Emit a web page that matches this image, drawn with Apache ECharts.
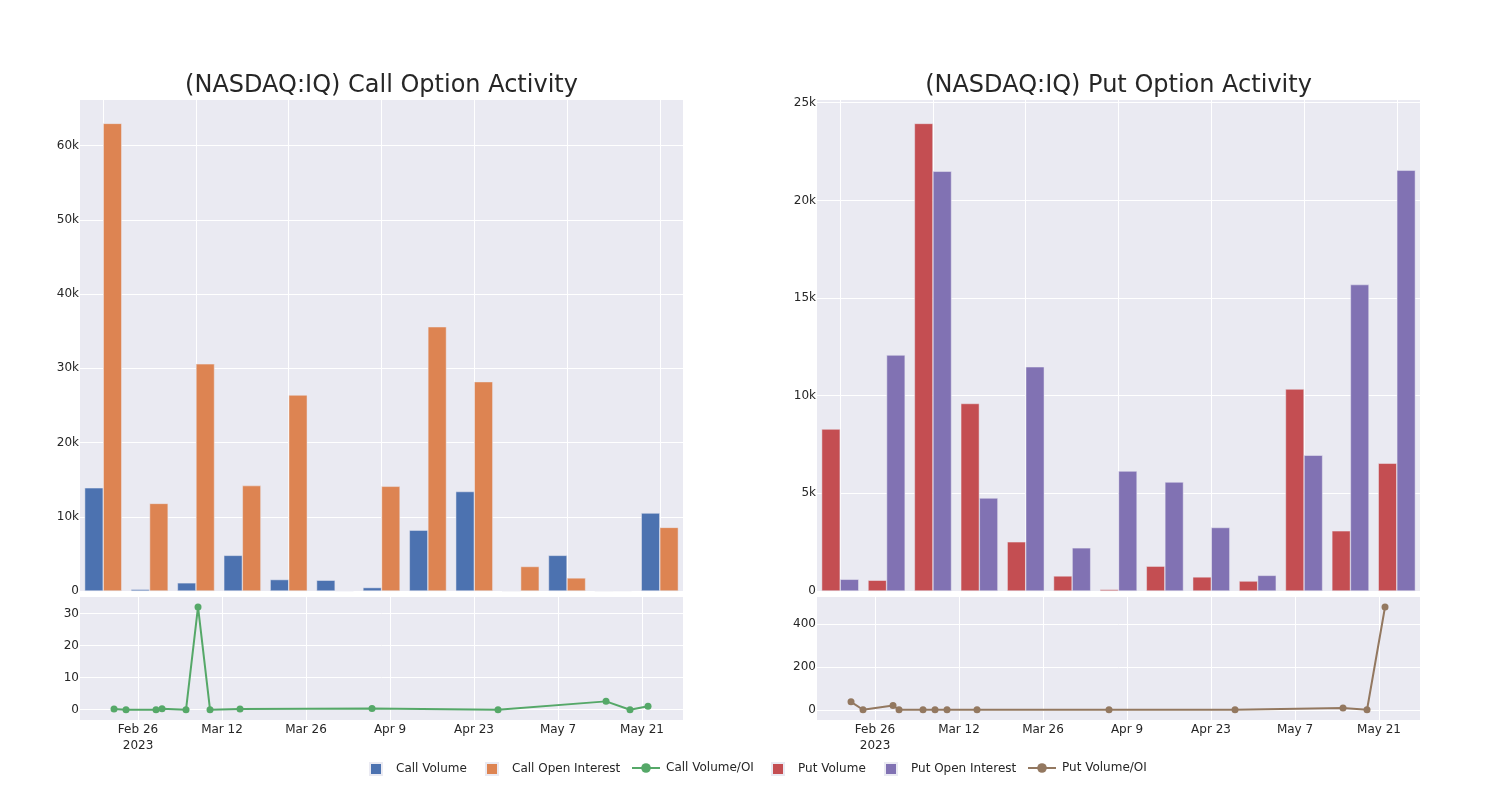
<!DOCTYPE html>
<html>
<head>
<meta charset="utf-8">
<script src="https://cdn.jsdelivr.net/npm/echarts@6/dist/echarts.min.js"></script>
<style>
html,body{margin:0;padding:0;background:#fff;}
#chart{width:1500px;height:800px;}
</style>
</head>
<body>
<div id="chart"></div>
<script>
// ---- data ----
const dates = ['2023-02-22','2023-02-24','2023-03-01','2023-03-02','2023-03-06','2023-03-08','2023-03-10','2023-03-15','2023-04-06','2023-04-27','2023-05-15','2023-05-19','2023-05-22'];
const callVolume = [13900, 230, 1100, 4800, 1540, 1450, 460, 8200, 13400, 0, 4800, 0, 10500];
const callOpenInterest = [63000, 11800, 30600, 14200, 26400, 45, 14100, 35600, 28200, 3300, 1760, 60, 8570];
const callVolOI = [0.2, 0, 0, 0.3, 0, 32, 0, 0.2, 0.4, 0, 2.6, 0, 1.1];
const putVolume = [8290, 550, 23940, 9600, 2520, 770, 80, 1270, 720, 510, 10340, 3080, 6540];
const putOpenInterest = [600, 12080, 21490, 4760, 11480, 2210, 6140, 5580, 3250, 800, 6950, 15690, 21540];
const putVolOI = [37, 0, 20, 0, 0, 0, 0, 0, 0, 0, 8, 0, 481];
const dateTicks = ['2023-02-26','2023-03-12','2023-03-26','2023-04-09','2023-04-23','2023-05-07','2023-05-21'];
const callBarTicks = [0, 10000, 20000, 30000, 40000, 50000, 60000];
const putBarTicks = [0, 5000, 10000, 15000, 20000, 25000];
const callRatioTicks = [0, 10, 20, 30];
const putRatioTicks = [0, 200, 400];
const legendNames = ['Call Volume','Call Open Interest','Call Volume/OI','Put Volume','Put Open Interest','Put Volume/OI'];

// ---- helpers ----
const DAY = 86400000;
function ts(s){ return new Date(s + 'T00:00:00').getTime(); }
const MONTHS = ['Jan','Feb','Mar','Apr','May','Jun','Jul','Aug','Sep','Oct','Nov','Dec'];
const firstTick = ts(dateTicks[0]);
function dateLabel(v){
  const d = new Date(v);
  let s = MONTHS[d.getMonth()] + ' ' + d.getDate();
  if (Math.abs(v - firstTick) < DAY/2) s += '\n' + d.getFullYear();
  return s;
}
function kLabel(v){ return v === 0 ? '0' : (v/1000) + 'k'; }

const FONT = 'DejaVu Sans';
const TXT = '#262626';
const BG = '#EAEAF2';
const C = {blue:'#4C72B0', orange:'#DD8452', green:'#55A868', red:'#C44E52', purple:'#8172B3', brown:'#937860'};

const tMin = firstTick - 9.67*DAY;
const tMax = firstTick + 90.83*DAY;
const catIdxTicks = dates.map((d,i)=>i).filter(i=>i%2===0);

const grids = [
  {left:80, top:100, width:603, height:491},
  {left:80, top:597, width:603, height:123},
  {left:817, top:100, width:603, height:491},
  {left:817, top:597, width:603, height:123}
].map(g => Object.assign({show:true, backgroundColor:BG, borderWidth:0, containLabel:false}, g));

const splitWhite = {show:true, lineStyle:{color:'#ffffff', width:1}};
const lbl = {color:TXT, fontFamily:FONT, fontSize:12};

function catAxis(gi){
  return {type:'category', gridIndex:gi, data:dates, boundaryGap:true,
    axisLine:{show:false}, axisTick:{show:false}, axisLabel:{show:false}, splitLine:{show:false}};
}
function gridOverlayAxis(gi){
  return {type:'value', gridIndex:gi, min:-0.5, max:dates.length-0.5,
    axisLine:{show:false}, axisTick:{show:false, customValues:catIdxTicks},
    axisLabel:{show:false, customValues:catIdxTicks}, splitLine:splitWhite};
}
function timeAxis(gi){
  const tv = dateTicks.map(ts);
  return {type:'value', gridIndex:gi, min:tMin, max:tMax, scale:true,
    axisLine:{show:false}, axisTick:{show:false, customValues:tv},
    axisLabel:Object.assign({customValues:tv, formatter:dateLabel, margin:2, lineHeight:16, hideOverlap:false}, lbl),
    splitLine:splitWhite};
}
function valAxis(gi, min, max, ticks, fmt){
  return {type:'value', gridIndex:gi, min:min, max:max,
    axisLine:{show:false}, axisTick:{show:false, customValues:ticks},
    axisLabel:Object.assign({customValues:ticks, formatter:fmt, margin:1}, lbl),
    splitLine:splitWhite};
}

const barStyle = c => ({color:c, borderColor:BG, borderWidth:0.5});

// one legend per item, placed like the reference
const legendLefts = [369, 485, 631, 771, 884, 1027];
const SQUARE = 'path://M0,0L10,0L10,10L0,10Z';
const legends = legendNames.map((n, i) => ({
  left: legendLefts[i], top: 762, itemWidth: 28, itemHeight: 12, padding: 0,
  textStyle: {color: TXT, fontFamily: FONT, fontSize: 12, padding: [0, 0, 0, 1]},
  data: [n.endsWith('/OI') ? {name: n} : {name: n, icon: SQUARE}]
}));

const option = {
  backgroundColor:'#ffffff',
  animation:false,
  textStyle:{fontFamily:FONT},
  title:[
    {text:'(NASDAQ:IQ) Call Option Activity', left:376.5, textAlign:'center', top:69,
      textStyle:{fontFamily:FONT, fontSize:24, fontWeight:'normal', color:TXT}},
    {text:'(NASDAQ:IQ) Put Option Activity', left:1113.5, textAlign:'center', top:69,
      textStyle:{fontFamily:FONT, fontSize:24, fontWeight:'normal', color:TXT}}
  ],
  legend: legends,
  grid:grids,
  xAxis:[catAxis(0), timeAxis(1), catAxis(2), timeAxis(3), gridOverlayAxis(0), gridOverlayAxis(2)],
  yAxis:[
    valAxis(0, 0, 66150, callBarTicks, kLabel),
    valAxis(1, -3.2, 35.1, callRatioTicks, v=>String(v)),
    valAxis(2, 0, 25140, putBarTicks, kLabel),
    valAxis(3, -48, 528, putRatioTicks, v=>String(v))
  ],
  series:[
    {name:'Call Volume', type:'bar', xAxisIndex:0, yAxisIndex:0, data:callVolume,
      barGap:'0%', barCategoryGap:'20%', itemStyle:barStyle(C.blue)},
    {name:'Call Open Interest', type:'bar', xAxisIndex:0, yAxisIndex:0, data:callOpenInterest,
      barGap:'0%', barCategoryGap:'20%', itemStyle:barStyle(C.orange)},
    {name:'Call Volume/OI', type:'line', xAxisIndex:1, yAxisIndex:1,
      data:dates.map((d,i)=>[ts(d), callVolOI[i]]),
      symbol:'circle', symbolSize:7, showSymbol:true,
      lineStyle:{color:C.green, width:2}, itemStyle:{color:C.green}},
    {name:'Put Volume', type:'bar', xAxisIndex:2, yAxisIndex:2, data:putVolume,
      barGap:'0%', barCategoryGap:'20%', itemStyle:barStyle(C.red)},
    {name:'Put Open Interest', type:'bar', xAxisIndex:2, yAxisIndex:2, data:putOpenInterest,
      barGap:'0%', barCategoryGap:'20%', itemStyle:barStyle(C.purple)},
    {name:'Put Volume/OI', type:'line', xAxisIndex:3, yAxisIndex:3,
      data:dates.map((d,i)=>[ts(d), putVolOI[i]]),
      symbol:'circle', symbolSize:7, showSymbol:true,
      lineStyle:{color:C.brown, width:2}, itemStyle:{color:C.brown}}
  ]
};

const chart = echarts.init(document.getElementById('chart'), null, {renderer:'canvas'});
chart.setOption(option);
</script>
</body>
</html>
